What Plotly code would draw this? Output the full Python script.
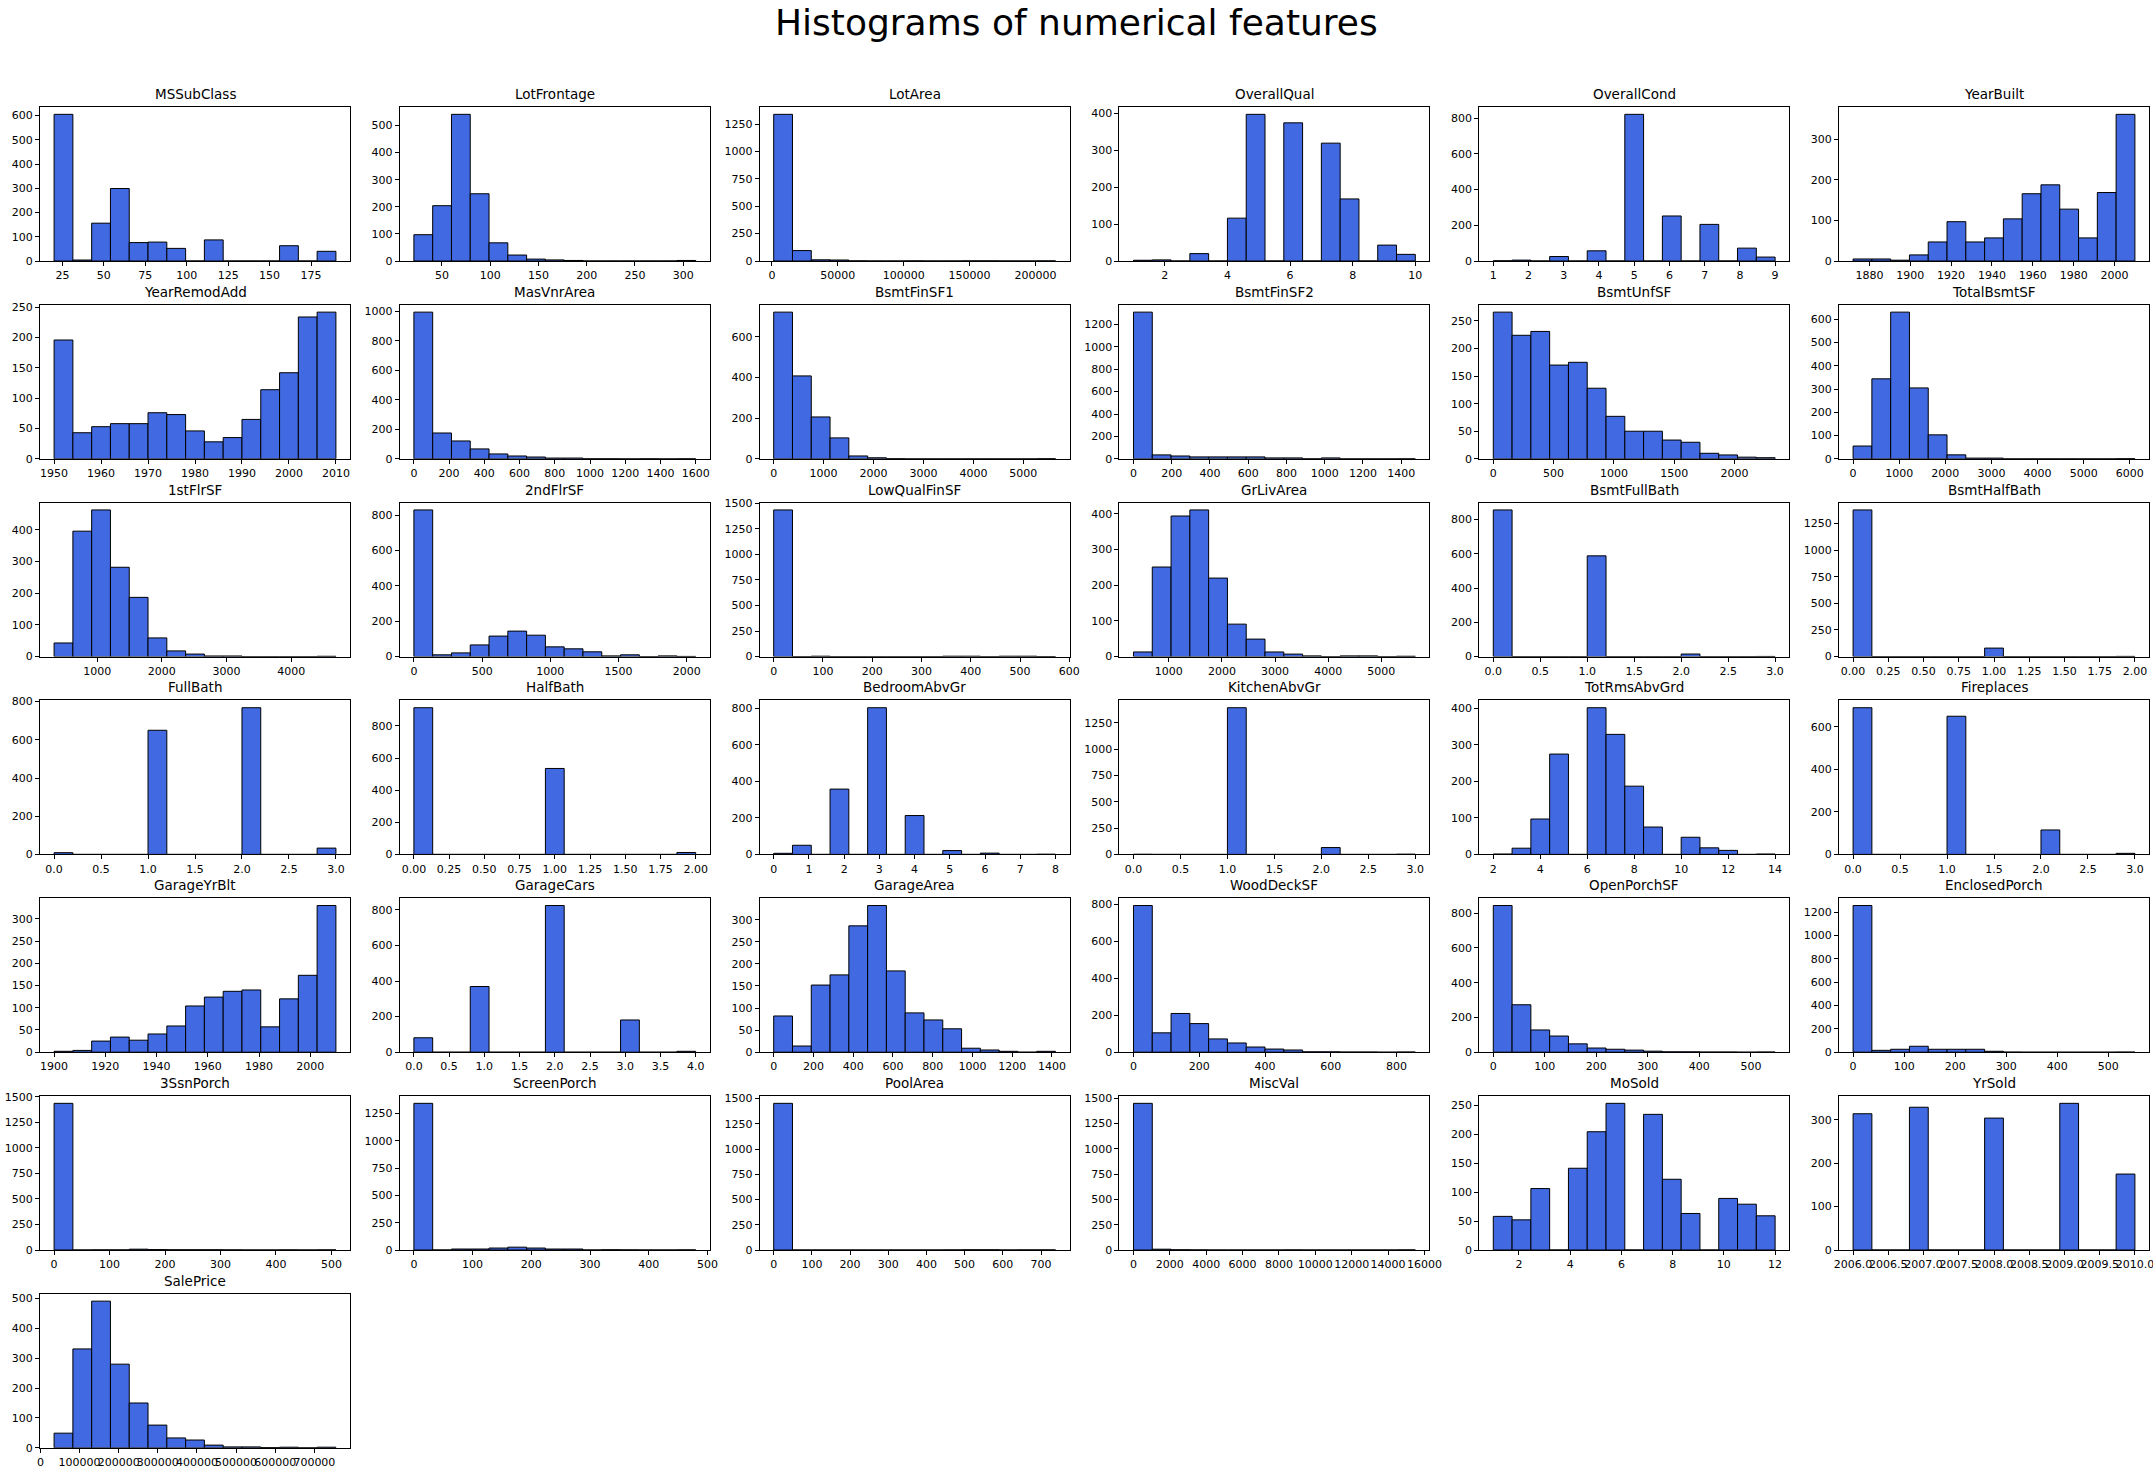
import numpy as np
import plotly.graph_objects as go

# ---------------- data ----------------
features = ["MSSubClass", "LotFrontage", "LotArea", "OverallQual", "OverallCond", "YearBuilt",
            "YearRemodAdd", "MasVnrArea", "BsmtFinSF1", "BsmtFinSF2", "BsmtUnfSF", "TotalBsmtSF",
            "1stFlrSF", "2ndFlrSF", "LowQualFinSF", "GrLivArea", "BsmtFullBath", "BsmtHalfBath",
            "FullBath", "HalfBath", "BedroomAbvGr", "KitchenAbvGr", "TotRmsAbvGrd", "Fireplaces",
            "GarageYrBlt", "GarageCars", "GarageArea", "WoodDeckSF", "OpenPorchSF", "EnclosedPorch",
            "3SsnPorch", "ScreenPorch", "PoolArea", "MiscVal", "MoSold", "YrSold",
            "SalePrice"]

# data range (first and last bin edge) of each feature
bin_min = [20, 21, 1300, 1, 1, 1872,
           1950, 0, 0, 0, 0, 0,
           334, 0, 0, 334, 0, 0,
           0, 0, 0, 0, 2, 0,
           1900, 0, 0, 0, 0, 0,
           0, 0, 0, 0, 1, 2006,
           34900]
bin_max = [190, 313, 215245, 10, 9, 2010,
           2010, 1600, 5644, 1474, 2336, 6110,
           4692, 2065, 572, 5642, 3, 2,
           3, 2, 8, 3, 14, 3,
           2010, 4, 1418, 857, 547, 552,
           508, 480, 738, 15500, 12, 2010,
           755000]

# counts of the 15 bins of each histogram
counts_MSSubClass = [605, 4, 156, 299, 76, 78, 52, 0, 87, 0, 0, 0, 63, 0, 40]
counts_LotFrontage = [97, 204, 541, 248, 67, 22, 7, 4, 2, 0, 0, 0, 0, 0, 2]
counts_LotArea = [1339, 95, 11, 9, 1, 0, 0, 1, 0, 0, 1, 1, 0, 0, 1]
counts_OverallQual = [2, 3, 0, 20, 0, 116, 397, 0, 374, 0, 319, 168, 0, 43, 18]
counts_OverallCond = [1, 5, 0, 25, 0, 57, 0, 821, 0, 252, 0, 205, 0, 72, 22]
counts_YearBuilt = [5, 5, 2, 15, 47, 97, 47, 57, 104, 166, 188, 128, 57, 169, 362]
counts_YearRemodAdd = [196, 43, 53, 58, 58, 76, 73, 46, 28, 35, 65, 114, 142, 234, 242]
counts_MasVnrArea = [995, 175, 121, 67, 33, 19, 12, 5, 5, 1, 1, 0, 1, 0, 1]
counts_BsmtFinSF1 = [722, 408, 206, 103, 14, 5, 1, 0, 0, 0, 0, 0, 0, 0, 1]
counts_BsmtFinSF2 = [1310, 35, 25, 17, 17, 17, 17, 8, 8, 1, 8, 0, 0, 0, 1]
counts_BsmtUnfSF = [266, 224, 231, 170, 175, 128, 77, 50, 50, 34, 30, 10, 7, 3, 2]
counts_TotalBsmtSF = [55, 344, 631, 305, 103, 17, 3, 3, 0, 0, 0, 0, 0, 0, 1]
counts_1stFlrSF = [43, 396, 463, 282, 187, 59, 18, 8, 2, 2, 0, 0, 0, 0, 1]
counts_2ndFlrSF = [829, 10, 21, 66, 116, 144, 121, 55, 44, 27, 4, 10, 0, 4, 1]
counts_LowQualFinSF = [1434, 0, 4, 0, 0, 0, 0, 0, 0, 4, 4, 0, 4, 4, 1]
counts_GrLivArea = [13, 251, 394, 411, 220, 91, 49, 13, 7, 2, 0, 2, 2, 0, 1]
counts_BsmtFullBath = [856, 0, 0, 0, 0, 588, 0, 0, 0, 0, 15, 0, 0, 0, 1]
counts_BsmtHalfBath = [1378, 0, 0, 0, 0, 0, 0, 80, 0, 0, 0, 0, 0, 0, 2]
counts_FullBath = [9, 0, 0, 0, 0, 650, 0, 0, 0, 0, 768, 0, 0, 0, 33]
counts_HalfBath = [913, 0, 0, 0, 0, 0, 0, 535, 0, 0, 0, 0, 0, 0, 12]
counts_BedroomAbvGr = [6, 50, 0, 358, 0, 804, 0, 213, 0, 21, 0, 7, 0, 0, 1]
counts_KitchenAbvGr = [1, 0, 0, 0, 0, 1392, 0, 0, 0, 0, 65, 0, 0, 0, 2]
counts_TotRmsAbvGrd = [1, 17, 97, 275, 0, 402, 329, 187, 75, 0, 47, 18, 11, 0, 1]
counts_Fireplaces = [690, 0, 0, 0, 0, 650, 0, 0, 0, 0, 115, 0, 0, 0, 5]
counts_GarageYrBlt = [2, 4, 25, 34, 27, 41, 59, 104, 124, 137, 140, 57, 120, 173, 330]
counts_GarageCars = [81, 0, 0, 369, 0, 0, 0, 824, 0, 0, 0, 181, 0, 0, 5]
counts_GarageArea = [82, 14, 152, 175, 286, 332, 184, 89, 73, 53, 9, 5, 2, 0, 2]
counts_WoodDeckSF = [795, 105, 210, 155, 72, 50, 28, 17, 12, 2, 2, 1, 1, 0, 1]
counts_OpenPorchSF = [844, 273, 128, 93, 48, 24, 17, 12, 6, 2, 2, 1, 1, 0, 1]
counts_EnclosedPorch = [1257, 16, 25, 51, 25, 25, 25, 8, 1, 0, 0, 0, 0, 0, 1]
counts_3SsnPorch = [1437, 0, 1, 1, 8, 4, 2, 2, 2, 1, 0, 0, 1, 0, 1]
counts_ScreenPorch = [1344, 0, 9, 9, 18, 26, 18, 9, 9, 0, 2, 1, 0, 0, 1]
counts_PoolArea = [1453, 0, 0, 0, 0, 0, 0, 0, 0, 1, 2, 2, 0, 1, 1]
counts_MiscVal = [1448, 8, 2, 1, 0, 0, 0, 0, 1, 0, 0, 0, 0, 0, 1]
counts_MoSold = [58, 52, 106, 0, 141, 204, 253, 0, 234, 122, 63, 0, 89, 79, 59]
counts_YrSold = [314, 0, 0, 329, 0, 0, 0, 304, 0, 0, 0, 338, 0, 0, 175]
counts_SalePrice = [49, 331, 491, 280, 150, 76, 33, 26, 9, 3, 3, 1, 2, 0, 2]

hist_counts = [counts_MSSubClass, counts_LotFrontage, counts_LotArea, counts_OverallQual,
               counts_OverallCond, counts_YearBuilt, counts_YearRemodAdd, counts_MasVnrArea,
               counts_BsmtFinSF1, counts_BsmtFinSF2, counts_BsmtUnfSF, counts_TotalBsmtSF,
               counts_1stFlrSF, counts_2ndFlrSF, counts_LowQualFinSF, counts_GrLivArea,
               counts_BsmtFullBath, counts_BsmtHalfBath, counts_FullBath, counts_HalfBath,
               counts_BedroomAbvGr, counts_KitchenAbvGr, counts_TotRmsAbvGrd, counts_Fireplaces,
               counts_GarageYrBlt, counts_GarageCars, counts_GarageArea, counts_WoodDeckSF,
               counts_OpenPorchSF, counts_EnclosedPorch, counts_3SsnPorch, counts_ScreenPorch,
               counts_PoolArea, counts_MiscVal, counts_MoSold, counts_YrSold, counts_SalePrice]

# y tick step of each panel
y_tick_step = [100, 100, 250, 100, 200, 100,
               50, 200, 200, 200, 50, 100,
               100, 200, 250, 100, 200, 250,
               200, 200, 200, 250, 100, 200,
               50, 200, 50, 200, 200, 200,
               250, 250, 250, 250, 50, 100,
               100]

# x tick labels of each panel
x_tick_labels = [
    ["25", "50", "75", "100", "125", "150", "175"],
    ["50", "100", "150", "200", "250", "300"],
    ["0", "50000", "100000", "150000", "200000"],
    ["2", "4", "6", "8", "10"],
    ["1", "2", "3", "4", "5", "6", "7", "8", "9"],
    ["1880", "1900", "1920", "1940", "1960", "1980", "2000"],
    ["1950", "1960", "1970", "1980", "1990", "2000", "2010"],
    ["0", "200", "400", "600", "800", "1000", "1200", "1400", "1600"],
    ["0", "1000", "2000", "3000", "4000", "5000"],
    ["0", "200", "400", "600", "800", "1000", "1200", "1400"],
    ["0", "500", "1000", "1500", "2000"],
    ["0", "1000", "2000", "3000", "4000", "5000", "6000"],
    ["1000", "2000", "3000", "4000"],
    ["0", "500", "1000", "1500", "2000"],
    ["0", "100", "200", "300", "400", "500", "600"],
    ["1000", "2000", "3000", "4000", "5000"],
    ["0.0", "0.5", "1.0", "1.5", "2.0", "2.5", "3.0"],
    ["0.00", "0.25", "0.50", "0.75", "1.00", "1.25", "1.50", "1.75", "2.00"],
    ["0.0", "0.5", "1.0", "1.5", "2.0", "2.5", "3.0"],
    ["0.00", "0.25", "0.50", "0.75", "1.00", "1.25", "1.50", "1.75", "2.00"],
    ["0", "1", "2", "3", "4", "5", "6", "7", "8"],
    ["0.0", "0.5", "1.0", "1.5", "2.0", "2.5", "3.0"],
    ["2", "4", "6", "8", "10", "12", "14"],
    ["0.0", "0.5", "1.0", "1.5", "2.0", "2.5", "3.0"],
    ["1900", "1920", "1940", "1960", "1980", "2000"],
    ["0.0", "0.5", "1.0", "1.5", "2.0", "2.5", "3.0", "3.5", "4.0"],
    ["0", "200", "400", "600", "800", "1000", "1200", "1400"],
    ["0", "200", "400", "600", "800"],
    ["0", "100", "200", "300", "400", "500"],
    ["0", "100", "200", "300", "400", "500"],
    ["0", "100", "200", "300", "400", "500"],
    ["0", "100", "200", "300", "400", "500"],
    ["0", "100", "200", "300", "400", "500", "600", "700"],
    ["0", "2000", "4000", "6000", "8000", "10000", "12000", "14000", "16000"],
    ["2", "4", "6", "8", "10", "12"],
    ["2006.0", "2006.5", "2007.0", "2007.5", "2008.0", "2008.5", "2009.0", "2009.5", "2010.0"],
    ["0", "100000", "200000", "300000", "400000", "500000", "600000", "700000"],
]

suptitle = "Histograms of numerical features"

# ---------------- layout constants ----------------
FIG_W, FIG_H = 2153, 1472
NCOLS = 6
AX_LEFT0, AX_DX, AX_W = 40, 359.8, 310
AX_TOP0, AX_DY, AX_H = 107, 197.8, 154
FONT = "DejaVu Sans"
BAR_COLOR = "#4169E1"

fig = go.Figure()
layout_axes = {}
annotations = []

for i, name in enumerate(features):
    r, c = divmod(i, NCOLS)
    counts = hist_counts[i]
    edges = np.linspace(bin_min[i], bin_max[i], len(counts) + 1)
    centers = (edges[:-1] + edges[1:]) / 2
    widths = np.diff(edges)
    n = i + 1
    xa = "x" if n == 1 else f"x{n}"
    ya = "y" if n == 1 else f"y{n}"
    fig.add_trace(go.Bar(
        x=centers, y=counts, width=widths,
        marker=dict(color=BAR_COLOR, line=dict(color="black", width=1)),
        xaxis=xa, yaxis=ya, showlegend=False, name=name,
    ))
    left = AX_LEFT0 + c * AX_DX
    top = AX_TOP0 + r * AX_DY
    span = bin_max[i] - bin_min[i]
    common = dict(showline=True, mirror=True, linecolor="black", linewidth=1,
                  ticks="outside", ticklen=4, tickwidth=1, tickcolor="black",
                  showgrid=False, zeroline=False, automargin=False, tickangle=0,
                  ticklabeloverflow="allow",
                  tickfont=dict(family=FONT, size=11, color="black"))
    layout_axes["xaxis" if n == 1 else f"xaxis{n}"] = dict(
        domain=[left / FIG_W, (left + AX_W) / FIG_W],
        anchor=ya,
        range=[bin_min[i] - 0.05 * span, bin_max[i] + 0.05 * span],
        tickmode="array",
        tickvals=[float(t) for t in x_tick_labels[i]],
        ticktext=x_tick_labels[i],
        **common,
    )
    layout_axes["yaxis" if n == 1 else f"yaxis{n}"] = dict(
        domain=[1 - (top + AX_H) / FIG_H, 1 - top / FIG_H],
        anchor=xa,
        range=[0, 1.05 * max(counts)],
        tick0=0, dtick=y_tick_step[i],
        **common,
    )
    annotations.append(dict(
        text=name, xref="paper", yref="paper",
        x=(left + AX_W / 2) / FIG_W, y=1 - top / FIG_H,
        xanchor="center", yanchor="bottom", yshift=3, showarrow=False,
        font=dict(family=FONT, size=13.5, color="black"),
    ))

annotations.append(dict(
    text=suptitle, xref="paper", yref="paper",
    x=0.5, y=1 - 22 / FIG_H, xanchor="center", yanchor="middle", showarrow=False,
    font=dict(family=FONT, size=36, color="black"),
))

fig.update_layout(
    width=FIG_W, height=FIG_H,
    margin=dict(l=0, r=0, t=0, b=0, autoexpand=False),
    paper_bgcolor="white", plot_bgcolor="white",
    barmode="overlay",
    annotations=annotations,
    font=dict(family=FONT, color="black"),
    **layout_axes,
)

fig.write_html("out.html",
               config={"displayModeBar": False},
               post_script="document.body.style.margin='0';document.body.style.overflow='hidden';")
